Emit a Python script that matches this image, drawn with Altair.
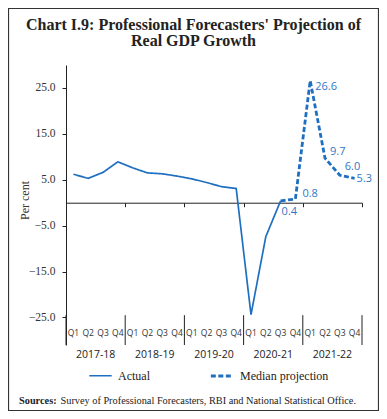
import altair as alt
import pandas as pd

# ---- data ----
quarters = ["Q1", "Q2", "Q3", "Q4"]
years = ["2017-18", "2018-19", "2019-20", "2020-21", "2021-22"]
actual = [6.2, 5.3, 6.6, 8.9, 7.6, 6.5, 6.3, 5.8, 5.2, 4.4, 3.5, 3.1, -24.4, -7.4, 0.4]
projection = [0.4, 0.8, 26.6, 9.7, 6.0, 5.3]   # 2020-21 Q3 .. 2021-22 Q4
proj_start = 14
series_names = ["Actual", "Median projection"]
title_lines = ["Chart I.9: Professional Forecasters' Projection of", "Real GDP Growth"]
source_bold = "Sources:"
source_text = "Survey of Professional Forecasters, RBI and National Statistical Office."

BLUE = "#1f6fc0"
LABEL_BLUE = "#3277c4"
INK = "#222222"
SERIF = "Liberation Serif"
SANS = "Open Sans"

W, H = 296, 280
YMIN, YMAX = -31, 30

rows = []
for i, v in enumerate(actual):
    rows.append({"pos": i + 0.5, "value": v, "series": series_names[0]})
for j, v in enumerate(projection):
    rows.append({"pos": proj_start + j + 0.5, "value": v, "series": series_names[1]})
df = pd.DataFrame(rows)

qdf = pd.DataFrame({"pos": [i + 0.5 for i in range(20)],
                    "q": [quarters[i % 4] for i in range(20)]})
ydf = pd.DataFrame({"pos": [4 * k + 2 for k in range(5)], "year": years})
sep = pd.DataFrame({"pos": [4 * k for k in range(6)]})
lab = pd.DataFrame({"pos": [proj_start + j + 0.5 for j in range(6)],
                    "value": projection,
                    "txt": [f"{v:.1f}" for v in projection]})
one = pd.DataFrame({"a": [0]})

xscale = alt.Scale(domain=[0, 20], nice=False, zero=False)
yscale = alt.Scale(domain=[YMIN, YMAX], nice=False, zero=False)
zero_offset = (YMAX / (YMAX - YMIN)) * H - H

leg = dict(title=None, orient="none", legendX=22, legendY=298,
           direction="horizontal", symbolType="stroke", symbolSize=500,
           symbolStrokeColor=BLUE, labelFont=SERIF, labelFontSize=12,
           labelColor=INK, columnPadding=55, padding=0, labelOffset=5)

lines = alt.Chart(df).mark_line(color=BLUE).encode(
    x=alt.X("pos:Q", scale=xscale,
            axis=alt.Axis(values=list(range(21)), labels=False, tickSize=4,
                          domainColor=INK, tickColor=INK, title=None,
                          grid=False, offset=zero_offset)),
    y=alt.Y("value:Q", scale=yscale,
            axis=alt.Axis(values=[-25, -15, -5, 5, 15, 25], format=".1f",
                          title="Per cent", grid=False, tickSize=4,
                          domainColor=INK, tickColor=INK, labelPadding=7,
                          labelFont=SERIF, labelFontSize=11.5, labelColor="#333",
                          titleFont=SERIF, titleFontSize=12, titleFontWeight="normal",
                          titleColor="#333", titleX=-41.5, titleY=135,
                          titleBaseline="middle", titleAngle=270)),
    strokeDash=alt.StrokeDash("series:N",
                              scale=alt.Scale(domain=series_names, range=[[1, 0], [5, 2.5]]),
                              legend=alt.Legend(**leg)),
    strokeWidth=alt.StrokeWidth("series:N",
                                scale=alt.Scale(domain=series_names, range=[1.7, 2.8]),
                                legend=alt.Legend(**leg)),
    order="pos:Q",
)

qlabels = alt.Chart(qdf).mark_text(font=SANS, fontSize=8.5, color="#333",
                                   baseline="middle").encode(
    x="pos:Q", y=alt.datum(-28.4), text="q:N")

ylabels = alt.Chart(ydf).mark_text(font=SANS, fontSize=10.5, color=INK,
                                   baseline="middle").encode(
    x="pos:Q", y=alt.datum(-33.2), text="year:N")

seps = alt.Chart(sep).mark_rule(color=INK, strokeWidth=1).encode(
    x="pos:Q", y=alt.datum(-24.5), y2=alt.datum(YMIN))

offsets = [(1, 11), (7, -5), (5, 6), (5, -6), (5, -8.5), (2, 1)]
label_layers = []
for k, (dx, dy) in enumerate(offsets):
    label_layers.append(
        alt.Chart(lab).transform_filter(alt.datum.pos == proj_start + k + 0.5)
        .mark_text(font=SANS, fontSize=11, color=LABEL_BLUE, align="left",
                   baseline="middle", dx=dx, dy=dy)
        .encode(x="pos:Q", y="value:Q", text="txt:N"))

frame = alt.Chart(one).mark_rect(fillOpacity=0, stroke="#333", strokeWidth=1.2).encode(
    x=alt.value(-57.5), x2=alt.value(312.5), y=alt.value(-56.5), y2=alt.value(345.5))

title = alt.Chart(one).mark_text(text="\n".join(title_lines), lineBreak="\n",
                                 lineHeight=16, font=SERIF, fontSize=16,
                                 fontWeight="bold", color=INK, align="center",
                                 baseline="alphabetic").encode(
    x=alt.value(127.5), y=alt.value(-35))

src1 = alt.Chart(one).mark_text(text=source_bold, font=SERIF, fontSize=10.3,
                                fontWeight="bold", color=INK, align="left",
                                baseline="alphabetic").encode(
    x=alt.value(-47), y=alt.value(339))
src2 = alt.Chart(one).mark_text(text=source_text, font=SERIF, fontSize=10.3,
                                color=INK, align="left",
                                baseline="alphabetic").encode(
    x=alt.value(-5.5), y=alt.value(339))

chart = alt.layer(frame, seps, qlabels, ylabels, lines, *label_layers,
                  title, src1, src2).properties(
    width=W, height=H,
    autosize=alt.AutoSizeParams(type="none"),
    padding={"left": 58, "top": 57, "right": 17, "bottom": 66},
).configure_view(stroke=None)

chart.save("out.html", embed_options={"renderer": "svg", "actions": False})
